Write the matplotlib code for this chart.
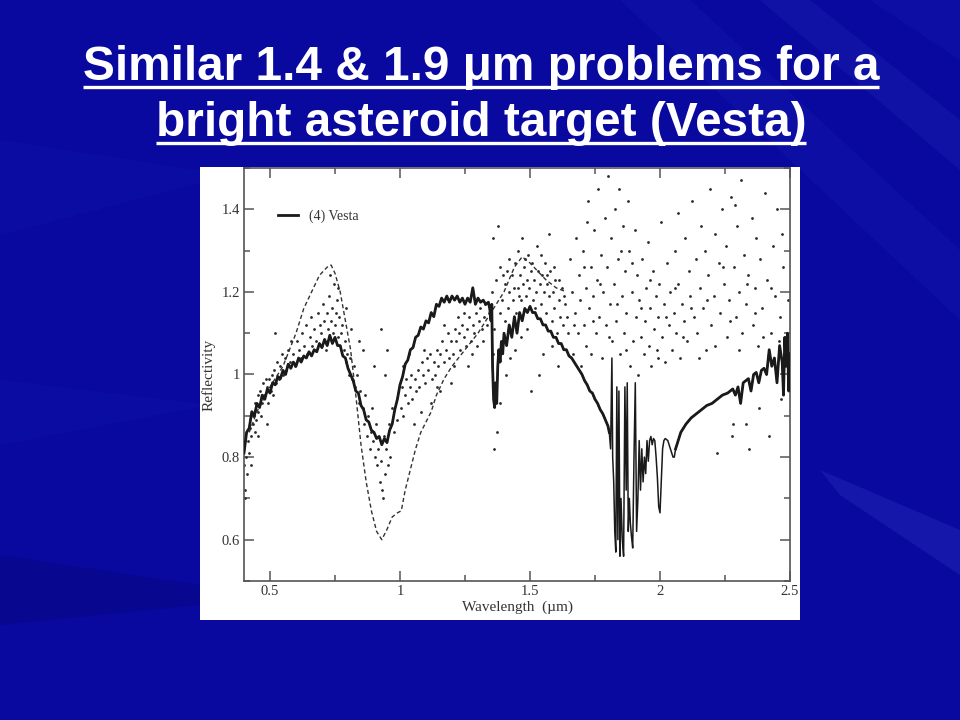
import numpy as np
import matplotlib
matplotlib.use("Agg")
import matplotlib.pyplot as plt
from matplotlib import font_manager
from matplotlib.lines import Line2D
from matplotlib.patches import Polygon
from matplotlib.ticker import MultipleLocator, FuncFormatter

# ---- data ----------------------------------------------------------------
# ground based Vesta spectrum (solid, noisy)
main_spectrum = [
    (0.40, 0.81), (0.41, 0.86), (0.42, 0.87), (0.43, 0.91), (0.44, 0.90),
    (0.45, 0.93), (0.46, 0.92), (0.47, 0.95), (0.48, 0.94), (0.49, 0.965),
    (0.50, 0.955), (0.51, 0.98), (0.52, 0.975), (0.53, 0.995), (0.54, 0.99),
    (0.55, 1.01), (0.56, 1.00), (0.57, 1.025), (0.58, 1.015), (0.59, 1.03),
    (0.60, 1.02), (0.61, 1.04), (0.62, 1.03), (0.63, 1.045), (0.64, 1.04),
    (0.65, 1.055), (0.66, 1.045), (0.67, 1.06), (0.68, 1.055), (0.69, 1.075),
    (0.70, 1.065), (0.71, 1.085), (0.72, 1.07), (0.73, 1.095), (0.74, 1.075),
    (0.75, 1.09), (0.76, 1.07), (0.77, 1.07), (0.78, 1.045), (0.79, 1.04),
    (0.80, 1.015), (0.81, 1.00), (0.82, 0.985), (0.83, 0.96), (0.84, 0.955),
    (0.85, 0.925), (0.86, 0.915), (0.87, 0.89), (0.88, 0.885), (0.89, 0.865),
    (0.90, 0.86), (0.91, 0.845), (0.92, 0.85), (0.93, 0.83), (0.94, 0.845),
    (0.95, 0.835), (0.96, 0.865), (0.97, 0.88), (0.98, 0.915), (0.99, 0.94),
    (1.00, 0.975), (1.01, 0.995), (1.02, 1.025), (1.03, 1.035), (1.04, 1.06),
    (1.05, 1.065), (1.06, 1.09), (1.07, 1.095), (1.08, 1.115), (1.09, 1.11),
    (1.10, 1.13), (1.11, 1.125), (1.12, 1.15), (1.13, 1.14), (1.14, 1.17),
    (1.15, 1.165), (1.16, 1.185), (1.17, 1.175), (1.18, 1.19), (1.19, 1.175),
    (1.20, 1.19), (1.21, 1.18), (1.22, 1.19), (1.23, 1.175), (1.24, 1.185),
    (1.25, 1.17), (1.26, 1.185), (1.27, 1.175), (1.28, 1.21), (1.29, 1.17),
    (1.30, 1.185), (1.31, 1.175), (1.32, 1.18), (1.33, 1.17), (1.34, 1.175),
    # 1.4 um band
    (1.345, 1.16), (1.35, 1.13), (1.353, 1.17), (1.356, 1.02), (1.36, 0.94),
    (1.364, 0.92), (1.368, 0.98), (1.372, 0.93), (1.376, 1.02), (1.38, 1.06),
    (1.385, 1.03), (1.39, 1.08), (1.395, 1.05), (1.40, 1.10),
    (1.41, 1.07), (1.42, 1.12), (1.43, 1.09), (1.44, 1.14), (1.45, 1.10),
    (1.46, 1.15), (1.47, 1.13), (1.48, 1.16), (1.49, 1.15), (1.50, 1.165),
    (1.51, 1.15), (1.52, 1.15), (1.53, 1.135), (1.54, 1.135), (1.55, 1.12),
    (1.56, 1.12), (1.57, 1.105), (1.58, 1.105), (1.59, 1.09), (1.60, 1.09),
    (1.61, 1.075), (1.62, 1.075), (1.63, 1.06), (1.64, 1.06), (1.65, 1.045),
    (1.66, 1.04), (1.67, 1.03), (1.68, 1.02), (1.69, 1.01), (1.70, 1.00),
    (1.71, 0.985), (1.72, 0.975), (1.73, 0.96), (1.74, 0.955), (1.75, 0.94),
    (1.76, 0.93), (1.77, 0.915), (1.78, 0.905), (1.79, 0.89), (1.80, 0.875),
    # 1.9 um band
    (1.805, 0.86), (1.81, 0.82), (1.815, 1.04), (1.818, 0.80), (1.822, 0.74),
    (1.826, 0.62), (1.83, 0.57), (1.834, 0.97), (1.838, 0.60), (1.842, 0.96),
    (1.846, 0.56), (1.85, 0.70), (1.855, 0.60), (1.86, 0.56), (1.865, 0.97),
    (1.87, 0.72), (1.874, 0.98), (1.878, 0.62), (1.882, 0.70), (1.886, 0.64),
    (1.89, 0.61), (1.895, 0.58), (1.90, 0.80), (1.905, 0.98), (1.91, 0.62),
    (1.915, 0.70), (1.92, 0.84), (1.925, 0.72), (1.93, 0.82), (1.935, 0.74),
    (1.94, 0.80), (1.945, 0.76), (1.95, 0.84), (1.955, 0.79), (1.96, 0.84),
    (1.965, 0.85), (1.97, 0.83), (1.975, 0.845), (1.98, 0.84), (1.985, 0.80),
    (1.99, 0.75), (1.995, 0.68), (2.00, 0.665), (2.005, 0.74), (2.01, 0.82),
    (2.015, 0.84), (2.02, 0.845), (2.03, 0.84), (2.04, 0.82), (2.05, 0.80),
    (2.055, 0.80), (2.06, 0.82), (2.07, 0.84), (2.08, 0.86), (2.09, 0.87),
    (2.10, 0.88), (2.12, 0.895), (2.14, 0.905), (2.16, 0.915), (2.18, 0.925),
    (2.20, 0.93), (2.22, 0.94), (2.24, 0.95), (2.26, 0.955), (2.28, 0.965),
    (2.29, 0.95), (2.30, 0.97), (2.31, 0.93), (2.32, 0.98), (2.33, 0.985),
    (2.34, 0.99), (2.35, 0.96), (2.36, 1.00), (2.37, 1.005), (2.38, 0.98),
    (2.39, 1.01), (2.40, 1.015), (2.41, 1.00), (2.42, 1.06), (2.43, 1.02),
    (2.44, 1.04), (2.45, 0.98), (2.46, 1.07), (2.47, 1.03), (2.475, 0.95),
    (2.48, 1.09), (2.485, 1.02), (2.49, 1.10), (2.495, 0.96), (2.50, 1.05),
]

# reference spectrum (dashed)
ref_wl = [0.42, 0.45, 0.50, 0.55, 0.60, 0.63, 0.66, 0.69, 0.72, 0.735,
          0.75, 0.77, 0.79, 0.81, 0.83, 0.85, 0.87, 0.89, 0.91, 0.93,
          0.95, 0.97, 0.99, 1.005, 1.02, 1.04, 1.06, 1.08, 1.10, 1.12,
          1.14, 1.17, 1.20, 1.25, 1.30, 1.35, 1.40, 1.44, 1.47, 1.50,
          1.53, 1.56, 1.60, 1.64]
ref_refl = [0.86, 0.91, 0.97, 1.02, 1.10, 1.16, 1.20, 1.24, 1.26, 1.265,
            1.245, 1.20, 1.13, 1.06, 0.95, 0.83, 0.74, 0.67, 0.62, 0.60,
            0.625, 0.655, 0.665, 0.67, 0.72, 0.77, 0.82, 0.86, 0.885, 0.91,
            0.95, 0.99, 1.02, 1.06, 1.10, 1.15, 1.20, 1.26, 1.285, 1.27,
            1.25, 1.23, 1.21, 1.20]

# scattered measurements, visible part (0.4 - 1.0 um)
dots_visible = [
    (0.400, 0.78), (0.402, 0.72), (0.405, 0.70), (0.408, 0.80), (0.412, 0.76),
    (0.415, 0.84), (0.418, 0.81), (0.422, 0.87), (0.425, 0.78), (0.428, 0.85),
    (0.433, 0.90), (0.436, 0.88), (0.441, 0.86), (0.444, 0.93), (0.448, 0.89),
    (0.452, 0.95), (0.455, 0.91), (0.461, 0.96), (0.464, 0.90), (0.468, 0.93),
    (0.473, 0.98), (0.477, 0.95), (0.483, 0.99), (0.487, 0.97), (0.492, 0.93),
    (0.497, 0.99), (0.503, 0.96), (0.507, 1.00), (0.512, 0.95), (0.516, 1.01),
    (0.523, 0.98), (0.527, 1.03), (0.533, 0.99), (0.538, 1.02), (0.545, 1.05),
    (0.551, 1.00), (0.557, 1.04), (0.562, 1.01), (0.568, 1.06), (0.576, 1.03),
    (0.582, 1.08), (0.588, 1.05), (0.596, 1.02), (0.603, 1.08), (0.611, 1.06),
    (0.618, 1.04), (0.455, 0.85), (0.521, 1.10), (0.489, 0.88),
    (0.623, 1.10), (0.632, 1.07), (0.638, 1.12), (0.644, 1.05), (0.652, 1.09),
    (0.657, 1.14), (0.663, 1.07), (0.671, 1.11), (0.676, 1.08), (0.684, 1.15),
    (0.692, 1.12), (0.697, 1.10), (0.703, 1.17), (0.708, 1.13), (0.714, 1.06),
    (0.718, 1.15), (0.724, 1.11), (0.728, 1.19), (0.733, 1.13), (0.737, 1.16),
    (0.742, 1.10), (0.745, 1.22), (0.751, 1.12), (0.754, 1.15), (0.758, 1.18),
    (0.763, 1.09), (0.767, 1.14), (0.772, 1.10), (0.778, 1.12), (0.783, 1.06),
    (0.787, 1.08), (0.793, 1.03), (0.797, 1.05), (0.803, 1.00), (0.808, 1.04),
    (0.816, 0.99), (0.822, 1.02), (0.828, 0.97), (0.836, 1.00), (0.842, 0.93),
    (0.848, 0.96), (0.856, 0.92), (0.862, 0.88), (0.867, 0.95), (0.872, 0.85),
    (0.877, 0.90), (0.883, 0.82), (0.887, 0.86), (0.893, 0.92), (0.898, 0.84),
    (0.903, 0.80), (0.907, 0.88), (0.912, 0.78), (0.917, 0.82), (0.922, 0.74),
    (0.927, 0.79), (0.931, 0.72), (0.935, 0.70), (0.939, 0.85), (0.943, 0.76),
    (0.948, 0.82), (0.953, 0.78), (0.958, 0.88), (0.963, 0.80), (0.971, 0.92),
    (0.978, 0.86), (0.987, 0.89), (0.812, 1.11), (0.928, 1.11), (0.951, 1.06),
    (0.944, 1.00), (0.841, 1.08), (0.792, 1.16), (0.858, 1.06), (0.901, 1.02),
    (0.731, 1.24), (0.762, 1.21),
]

# scattered measurements, 1.0 - 1.35 um
dots_near_ir = [
    (1.003, 0.92), (1.006, 0.97), (1.013, 0.90), (1.018, 0.95), (1.024, 0.99),
    (1.031, 0.93), (1.037, 0.97), (1.043, 1.00), (1.048, 0.94), (1.056, 0.99),
    (1.061, 0.96), (1.068, 1.01), (1.074, 0.97), (1.083, 1.03), (1.087, 1.00),
    (1.096, 0.98), (1.102, 1.04), (1.108, 1.01), (1.117, 1.05), (1.123, 0.99),
    (1.129, 1.03), (1.136, 1.00), (1.144, 1.06), (1.148, 1.02), (1.155, 1.05),
    (1.163, 1.08), (1.168, 1.03), (1.176, 1.06), (1.183, 1.10), (1.187, 1.04),
    (1.196, 1.08), (1.204, 1.05), (1.212, 1.11), (1.217, 1.08), (1.226, 1.10),
    (1.232, 1.06), (1.238, 1.12), (1.246, 1.09), (1.253, 1.07), (1.259, 1.11),
    (1.267, 1.14), (1.273, 1.08), (1.281, 1.12), (1.286, 1.10), (1.294, 1.15),
    (1.302, 1.13), (1.308, 1.16), (1.314, 1.11), (1.322, 1.14), (1.327, 1.17),
    (1.333, 1.12), (1.343, 1.15), (1.052, 0.88), (1.121, 0.93), (1.198, 0.98),
    (1.263, 1.02), (1.034, 1.05), (1.081, 0.91), (1.152, 0.96), (1.171, 1.12),
    (1.223, 1.14), (1.277, 1.05), (1.318, 1.08), (1.092, 1.06), (1.141, 0.97),
    (1.209, 1.02), (1.248, 1.15), (1.297, 1.07), (1.013, 1.02),
]

# scattered measurements, 1.35 - 1.65 um
dots_h_band = [
    (1.352, 1.20), (1.357, 1.05), (1.363, 1.11), (1.366, 0.98), (1.371, 1.23),
    (1.374, 0.86), (1.383, 1.15), (1.386, 1.26), (1.391, 1.18), (1.396, 1.08),
    (1.402, 1.22), (1.405, 1.13), (1.413, 1.25), (1.417, 1.16), (1.421, 1.20),
    (1.426, 1.10), (1.432, 1.24), (1.434, 1.18), (1.441, 1.27), (1.446, 1.15),
    (1.452, 1.21), (1.455, 1.30), (1.461, 1.24), (1.464, 1.18), (1.468, 1.33),
    (1.473, 1.22), (1.478, 1.26), (1.483, 1.19), (1.489, 1.23), (1.492, 1.29),
    (1.497, 1.21), (1.503, 1.25), (1.508, 1.27), (1.511, 1.18), (1.516, 1.23),
    (1.522, 1.20), (1.527, 1.31), (1.531, 1.25), (1.538, 1.22), (1.542, 1.17),
    (1.547, 1.24), (1.553, 1.20), (1.558, 1.27), (1.561, 1.15), (1.567, 1.22),
    (1.572, 1.19), (1.578, 1.25), (1.583, 1.13), (1.587, 1.20), (1.594, 1.16),
    (1.598, 1.23), (1.603, 1.10), (1.611, 1.18), (1.617, 1.14), (1.622, 1.21),
    (1.628, 1.12), (1.636, 1.17), (1.647, 1.10), (1.358, 1.33), (1.376, 1.36),
    (1.361, 0.82), (1.384, 0.93), (1.407, 1.00), (1.424, 1.04), (1.443, 1.06),
    (1.466, 1.09), (1.487, 1.11), (1.551, 1.05), (1.585, 1.07), (1.533, 1.00),
    (1.502, 0.96), (1.606, 1.02), (1.574, 1.34), (1.437, 1.21), (1.459, 1.19),
    (1.481, 1.28), (1.519, 1.16), (1.541, 1.29), (1.564, 1.24), (1.592, 1.26),
    (1.613, 1.23), (1.632, 1.19), (1.644, 1.14), (1.395, 1.24), (1.418, 1.28),
]

# scattered measurements, 1.65 - 2.5 um
dots_k_band = [
    (1.655, 1.28), (1.661, 1.20), (1.664, 1.05), (1.672, 1.15), (1.676, 1.33),
    (1.683, 1.10), (1.687, 1.24), (1.693, 1.18), (1.697, 1.02), (1.703, 1.30),
    (1.706, 1.12), (1.714, 1.21), (1.717, 1.07), (1.722, 1.42), (1.727, 1.16),
    (1.733, 1.26), (1.736, 1.05), (1.744, 1.19), (1.747, 1.35), (1.752, 1.10),
    (1.758, 1.23), (1.762, 1.45), (1.765, 1.14), (1.773, 1.29), (1.776, 1.04),
    (1.781, 1.20), (1.788, 1.38), (1.792, 1.12), (1.796, 1.26), (1.801, 1.48),
    (1.806, 1.17), (1.812, 1.33), (1.816, 1.08), (1.823, 1.22), (1.827, 1.40),
    (1.831, 1.13), (1.838, 1.28), (1.843, 1.45), (1.846, 1.05), (1.852, 1.19),
    (1.857, 1.36), (1.862, 1.10), (1.866, 1.25), (1.871, 1.15), (1.877, 1.42),
    (1.882, 1.30), (1.885, 1.02), (1.891, 1.20), (1.897, 1.08), (1.902, 1.35),
    (1.906, 1.14), (1.913, 1.24), (1.917, 1.00), (1.921, 1.18), (1.926, 1.09),
    (1.932, 1.28), (1.937, 1.05), (1.942, 1.13), (1.946, 1.21), (1.953, 1.32),
    (1.957, 1.07), (1.962, 1.16), (1.967, 1.02), (1.972, 1.25), (1.976, 1.11),
    (1.983, 1.19), (1.987, 1.06), (1.993, 1.14), (1.998, 1.22), (2.004, 1.37),
    (2.008, 1.09), (2.016, 1.17), (2.021, 1.03), (2.027, 1.27), (2.033, 1.12),
    (2.038, 1.20), (2.046, 1.06), (2.052, 1.15), (2.057, 1.30), (2.063, 1.10),
    (2.071, 1.22), (2.076, 1.04), (2.083, 1.17), (2.091, 1.13), (2.097, 1.33),
    (2.103, 1.08), (2.112, 1.25), (2.117, 1.19), (2.124, 1.42), (2.131, 1.14),
    (2.137, 1.28), (2.144, 1.10), (2.152, 1.21), (2.158, 1.36), (2.166, 1.16),
    (2.173, 1.30), (2.178, 1.06), (2.186, 1.24), (2.193, 1.45), (2.198, 1.12),
    (2.207, 1.19), (2.213, 1.34), (2.218, 0.81), (2.226, 1.27), (2.232, 1.15),
    (2.238, 1.40), (2.247, 1.22), (2.253, 1.31), (2.258, 1.09), (2.266, 1.18),
    (2.273, 1.43), (2.277, 0.85), (2.284, 1.26), (2.291, 1.14), (2.297, 1.36),
    (2.305, 1.20), (2.312, 1.47), (2.316, 1.10), (2.324, 1.29), (2.331, 1.17),
    (2.337, 1.24), (2.343, 0.82), (2.352, 1.38), (2.358, 1.12), (2.364, 1.21),
    (2.371, 1.33), (2.377, 1.07), (2.386, 1.28), (2.393, 1.16), (2.404, 1.44),
    (2.411, 1.23), (2.418, 0.85), (2.426, 1.10), (2.433, 1.31), (2.442, 1.19),
    (2.451, 1.40), (2.463, 1.14), (2.472, 1.26), (2.484, 1.05),
    (1.668, 1.12), (1.709, 1.26), (1.741, 1.13), (1.769, 1.22), (1.803, 1.09),
    (1.835, 1.17), (1.868, 1.06), (1.894, 1.27), (1.928, 1.16), (1.961, 1.23),
    (1.991, 1.04), (2.024, 1.14), (2.058, 1.21), (2.087, 1.09), (2.121, 1.16),
    (2.149, 1.04), (2.181, 1.18), (2.211, 1.07), (2.243, 1.26), (2.271, 1.13),
    (2.302, 1.06), (2.333, 1.22), (2.366, 1.15), (2.397, 1.09), (2.428, 1.21),
    (2.458, 1.08), (2.493, 1.18), (1.718, 1.37), (1.849, 1.30), (2.069, 1.39),
    (2.289, 1.41), (2.469, 1.34), (2.282, 0.88), (2.329, 0.88), (2.381, 0.92),
    (2.466, 0.94),
]

title_lines = ["Similar 1.4 & 1.9 \u03bcm problems for a",
               "bright asteroid target (Vesta)"]
legend_label = "(4) Vesta"
x_label = "Wavelength  (\u00b5m)"
y_label = "Reflectivity"

# ---- style ---------------------------------------------------------------
SLIDE_BLUE = "#0909a0"
INK = "#1a1a1a"
AXIS_GREY = "#555555"

names = {f.name for f in font_manager.fontManager.ttflist}
title_font = "Liberation Sans Narrow" if "Liberation Sans Narrow" in names else "Liberation Sans"
plot_font = "Liberation Serif" if "Liberation Serif" in names else "DejaVu Serif"

# soft lighter / darker streaks of the slide background (pixel coords, y down)
streaks = [
    ([(620, 0), (690, 0), (960, 250), (960, 320)], "#4a62e0", 0.07),
    ([(760, 0), (810, 0), (960, 120), (960, 170)], "#5a72e8", 0.09),
    ([(870, 0), (960, 0), (960, 60)], "#4a62e0", 0.07),
    ([(0, 140), (230, 175), (0, 235)], "#3a50d0", 0.05),
    ([(0, 380), (210, 405), (0, 445)], "#3a50d0", 0.05),
    ([(820, 470), (960, 530), (960, 575), (840, 495)], "#6a80f0", 0.12),
    ([(0, 555), (200, 585), (200, 605), (0, 625)], "#000050", 0.2),
]

fig = plt.figure(figsize=(9.6, 7.2), dpi=100)
fig.patch.set_facecolor(SLIDE_BLUE)

bg = fig.add_axes([0, 0, 1, 1], zorder=-10)
bg.set_xlim(0, 960)
bg.set_ylim(720, 0)
bg.axis("off")
for pts, col, a in streaks:
    bg.add_patch(Polygon(pts, closed=True, facecolor=col, edgecolor="none", alpha=a))

# white picture frame of the pasted plot
box = fig.add_axes([200 / 960, 100 / 720, 600 / 960, 453 / 720])
box.set_facecolor("white")
box.set_xticks([])
box.set_yticks([])
for sp in box.spines.values():
    sp.set_visible(False)

ax = fig.add_axes([244 / 960, 139 / 720, 546 / 960, 413 / 720])
ax.set_facecolor("white")

dots = np.array(dots_visible + dots_near_ir + dots_h_band + dots_k_band)
ax.scatter(dots[:, 0], dots[:, 1], s=4, color="#2a2a2a", linewidths=0, zorder=2)

ax.plot(ref_wl, ref_refl, color="#333333", lw=1.0, dashes=(3, 2), zorder=3)

spec = np.array(main_spectrum)
wl, refl = spec[:, 0], spec[:, 1]
# fine strokes everywhere, a heavier trace where the spectrum is clean
main_line, = ax.plot(wl, refl, color=INK, lw=1.1, zorder=4)
clean = np.where((wl < 1.806) | (wl > 2.055), refl, np.nan)
ax.plot(wl, clean, color=INK, lw=2.0, zorder=4)

ax.set_xlim(0.4, 2.5)
ax.set_ylim(0.5, 1.5)
ax.xaxis.set_major_locator(MultipleLocator(0.5))
ax.xaxis.set_minor_locator(MultipleLocator(0.25))
ax.yaxis.set_major_locator(MultipleLocator(0.2))
ax.yaxis.set_minor_locator(MultipleLocator(0.1))
fmt = FuncFormatter(lambda v, p: f"{v:g}")
ax.xaxis.set_major_formatter(fmt)
ax.yaxis.set_major_formatter(fmt)

ax.tick_params(which="both", direction="in", top=True, right=True,
               color=AXIS_GREY, width=1.1, labelcolor="#333333", labelsize=10.5, pad=3)
ax.tick_params(which="major", length=7)
ax.tick_params(which="minor", length=4)
for lbl in ax.get_xticklabels() + ax.get_yticklabels():
    lbl.set_family(plot_font)
for sp in ax.spines.values():
    sp.set_color(AXIS_GREY)
    sp.set_linewidth(1.2)

ax.set_xlabel(x_label, family=plot_font, fontsize=11, color="#333333", labelpad=2)
ax.set_ylabel(y_label, family=plot_font, fontsize=11, color="#333333", labelpad=4)

leg_handle = Line2D([], [], color=INK, lw=2.0)
ax.legend([leg_handle], [legend_label], loc="center left", bbox_to_anchor=(0.062, 0.884),
          frameon=False, handlelength=1.45, handletextpad=0.8, borderpad=0,
          borderaxespad=0, prop={"family": plot_font, "size": 10}, labelcolor="#333333")

# ---- title, fitted to the slide width and underlined ---------------------
titles = []
for line, base in zip(title_lines, [80, 136]):
    t = fig.text(481 / 960, (720 - base) / 720, line, ha="center", va="baseline",
                 color="white", fontweight="bold", family=title_font, fontsize=30)
    titles.append(t)

fig.canvas.draw()
renderer = fig.canvas.get_renderer()
w = titles[0].get_window_extent(renderer).width
fs = 30 * 798 / w
for t in titles:
    t.set_fontsize(fs)
fig.canvas.draw()

for t, uy in zip(titles, [87, 143]):
    bb = t.get_window_extent(renderer)
    fig.add_artist(Line2D([bb.x0 / 960, bb.x1 / 960], [(720 - uy) / 720] * 2,
                          color="white", lw=2.4, solid_capstyle="butt"))

fig.savefig("out.png", dpi=100, facecolor=fig.get_facecolor())
